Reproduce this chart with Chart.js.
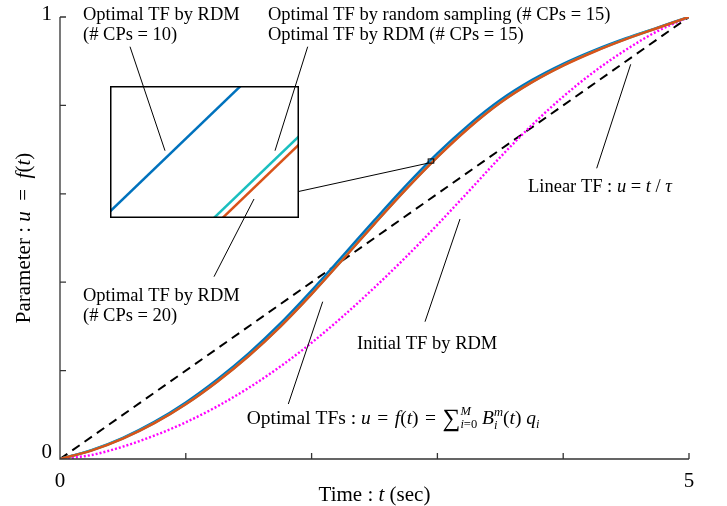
<!DOCTYPE html>
<html>
<head>
<meta charset="utf-8">
<script src="https://cdn.jsdelivr.net/npm/chart.js@4.4.1/dist/chart.umd.min.js"></script>
<style>
  html, body { margin: 0; padding: 0; background: #fff; }
  #wrap { position: relative; width: 727px; height: 506px; }
  #main { position: absolute; left: 0; top: 0; }
  #inset { position: absolute; left: 110px; top: 86px; }
</style>
</head>
<body>
<div id="wrap">
  <canvas id="main" width="727" height="506"></canvas>
  <canvas id="inset" width="189" height="132"></canvas>
</div>
<script>
// time samples (sec) and transfer functions u = f(t)
const timeGrid = [0, 0.25, 0.5, 0.75, 1, 1.25, 1.5, 1.75, 2, 2.25, 2.5, 2.75, 3, 3.25, 3.5, 3.75, 4, 4.25, 4.5, 4.75, 5]
const initialRDM = [0, 0.009, 0.028, 0.053, 0.083, 0.119, 0.161, 0.209, 0.263, 0.323, 0.388, 0.457, 0.530, 0.606, 0.683, 0.755, 0.820, 0.877, 0.926, 0.968, 1.0]
const optimalRDM10 = [0, 0.020, 0.048, 0.084, 0.128, 0.180, 0.239, 0.306, 0.381, 0.4603, 0.5403, 0.6183, 0.6913, 0.756, 0.812, 0.857, 0.894, 0.925, 0.952, 0.976, 1.0]
const optimalRDM15 = [0, 0.0194, 0.0466, 0.0816, 0.1246, 0.1756, 0.2336, 0.2996, 0.3736, 0.4526, 0.5326, 0.6106, 0.6836, 0.7496, 0.8066, 0.8526, 0.8906, 0.9226, 0.9506, 0.9754, 1.0]
const optimalRDM20 = [0, 0.019, 0.046, 0.081, 0.124, 0.175, 0.233, 0.299, 0.373, 0.452, 0.532, 0.610, 0.683, 0.749, 0.806, 0.852, 0.890, 0.922, 0.950, 0.975, 1.0]
const linearTime = [0, 5]
const linearTF = [0, 1]

const xTickValues = [0, 1, 2, 3, 4, 5]
const xTickLabels = ["0", "", "", "", "", "5"]
const yTickValues = [0, 0.2, 0.4, 0.6, 0.8, 1]
const yTickLabels = ["0", "", "", "", "", "1"]

// zoom window shown in the inset
const zoomT = [2.9265, 2.9715]
const zoomU = [0.66936, 0.67892]

const SERIF = '"Liberation Serif", "Times New Roman", serif'
const EN = "\u2002"
const MID = "\u2004"
const pts = (xs, ys) => xs.map((x, i) => ({ x: x, y: ys[i] }))

function makeDatasets(smooth) {
  const curve = smooth ? { cubicInterpolationMode: "monotone" } : { tension: 0 }
  return [
    { data: pts(timeGrid, optimalRDM20), borderColor: "#d95319", borderWidth: 2.5, ...curve },
    { data: pts(timeGrid, optimalRDM15), borderColor: "#1abfbf", borderWidth: 2.5, ...curve },
    { data: pts(timeGrid, optimalRDM10), borderColor: "#0072bd", borderWidth: 2.5, ...curve },
    { data: pts(timeGrid, initialRDM), borderColor: "#ff00ff", borderWidth: 2.4, borderDash: [2, 2], ...curve },
    { data: pts(linearTime, linearTF), borderColor: "#000", borderWidth: 2, borderDash: [9, 6], tension: 0 }
  ]
}

// label leaders, in page pixels
const leaders = [
  [130, 46.7, 165, 150.7],
  [307.7, 46.7, 275, 150.7],
  [214, 276.7, 254, 199],
  [596.7, 168.3, 630.7, 64.3],
  [425, 321.7, 460, 219],
  [288.3, 404, 322.7, 301.7]
]

const R = (s, o) => ({ s: s, ...o })
const I = (s, o) => ({ s: s, it: true, ...o })

function rich(ctx, parts, x, y, align, draw, size) {
  const base = size || 18.5
  let cx = x, anchor = x, maxX = x
  if (align === "center") cx = x - rich(ctx, parts, 0, 0, "left", false, size) / 2
  const start = cx
  for (const p of parts) {
    ctx.font = (p.it ? "italic " : "") + (p.sz || base) + "px " + SERIF
    const w = ctx.measureText(p.s).width
    if (p.save) anchor = cx
    if (p.restore) { maxX = Math.max(maxX, cx); cx = anchor }
    if (draw) ctx.fillText(p.s, cx, y + (p.dy || 0))
    cx += w
    if (p.end) { cx = Math.max(cx, maxX); maxX = 0 }
  }
  return cx - start
}

const labels = [
  { x: 83, y: 19.5, parts: [R("Optimal TF by RDM")] },
  { x: 83, y: 40, parts: [R("(# CPs = 10)")] },
  { x: 268, y: 19.5, parts: [R("Optimal TF by random sampling (# CPs = 15)")] },
  { x: 268, y: 40, parts: [R("Optimal TF by RDM (# CPs = 15)")] },
  { x: 83, y: 300.7, parts: [R("Optimal TF by RDM")] },
  { x: 83, y: 321, parts: [R("(# CPs = 20)")] },
  { x: 528, y: 191.7, parts: [R("Linear TF : "), I("u"), R(" = "), I("t"), R(" / "), I("τ")] },
  { x: 357, y: 349.3, parts: [R("Initial TF by RDM")] },
  { x: 246.7, y: 424, size: 19.5, parts: [
    R("Optimal TFs : "), I("u"), R(MID + "=" + MID), I("f"), R("("), I("t"), R(")" + MID + "=" + MID),
    R("∑", { sz: 25, dy: 2 }),
    I("M", { sz: 12.5, dy: -9, save: true }), I("i", { sz: 12.5, dy: 4, restore: true }), R("=0", { sz: 12.5, dy: 4, end: true }),
    R(" "), I("B"), I("m", { sz: 12.5, dy: -8, save: true }), I("i", { sz: 12.5, dy: 5, restore: true, end: true }),
    R("("), I("t"), R(") "), I("q"), I("i", { sz: 12.5, dy: 4 })
  ] }
]

const mainDecor = {
  id: "mainDecor",
  afterDatasetsDraw(chart) {
    const { ctx, scales: { x, y } } = chart
    const x0 = x.getPixelForValue(0), x1 = x.getPixelForValue(5)
    const y0 = y.getPixelForValue(0), y1 = y.getPixelForValue(1)
    ctx.save()
    ctx.strokeStyle = "#333"
    ctx.lineWidth = 1.3
    ctx.beginPath()
    ctx.moveTo(x0, y1); ctx.lineTo(x0, y0); ctx.lineTo(x1, y0)
    xTickValues.forEach(v => { const px = x.getPixelForValue(v); ctx.moveTo(px, y0); ctx.lineTo(px, y0 - 6) })
    yTickValues.forEach(v => { const py = y.getPixelForValue(v); ctx.moveTo(x0, py); ctx.lineTo(x0 + 6, py) })
    ctx.stroke()

    ctx.fillStyle = "#000"
    ctx.font = "21px " + SERIF
    ctx.textAlign = "center"
    xTickValues.forEach((v, i) => ctx.fillText(xTickLabels[i], x.getPixelForValue(v), y0 + 28))
    ctx.textAlign = "right"
    yTickValues.forEach((v, i) => ctx.fillText(yTickLabels[i], x0 - 8, y.getPixelForValue(v) + (v === 0 ? -0.7 : 3)))
    ctx.textAlign = "left"

    // axis titles
    rich(ctx, [R("Time : "), I("t"), R(" (sec)")], (x0 + x1) / 2, 500.5, "center", true, 21)
    ctx.save()
    ctx.translate(30, (y0 + y1) / 2)
    ctx.rotate(-Math.PI / 2)
    rich(ctx, [R("Parameter : "), I("u"), R(EN + "=" + EN), I("f"), R("("), I("t"), R(")")], 0, 0, "center", true, 21)
    ctx.restore()

    // zoom box and connector
    const bx0 = x.getPixelForValue(zoomT[0]), bx1 = x.getPixelForValue(zoomT[1])
    const by0 = y.getPixelForValue(zoomU[0]), by1 = y.getPixelForValue(zoomU[1])
    ctx.strokeStyle = "#000"
    ctx.lineWidth = 1
    ctx.strokeRect(bx0, by1, bx1 - bx0, by0 - by1)
    ctx.beginPath()
    ctx.moveTo(298.5, 191.5); ctx.lineTo(bx0, by0)
    leaders.forEach(l => { ctx.moveTo(l[0], l[1]); ctx.lineTo(l[2], l[3]) })
    ctx.stroke()

    labels.forEach(l => rich(ctx, l.parts, l.x, l.y, "left", true, l.size))
    ctx.restore()
  }
}

const insetDecor = {
  id: "insetDecor",
  beforeDraw(chart) {
    const { ctx, width, height } = chart
    ctx.save()
    ctx.fillStyle = "#fff"
    ctx.fillRect(0, 0, width, height)
    ctx.restore()
  },
  afterDraw(chart) {
    const { ctx, width, height } = chart
    ctx.save()
    ctx.strokeStyle = "#000"
    ctx.lineWidth = 1
    ctx.beginPath()
    leaders.slice(0, 3).forEach(l => { ctx.moveTo(l[0] - 110, l[1] - 86); ctx.lineTo(l[2] - 110, l[3] - 86) })
    ctx.stroke()
    ctx.lineWidth = 1.5
    ctx.strokeRect(0.75, 0.75, width - 1.5, height - 1.5)
    ctx.restore()
  }
}

const baseOptions = {
  responsive: false,
  animation: false,
  devicePixelRatio: 1,
  plugins: { legend: { display: false }, tooltip: { enabled: false } },
  elements: { point: { radius: 0 } }
}

new Chart(document.getElementById("main"), {
  type: "line",
  data: { datasets: makeDatasets(true) },
  options: {
    ...baseOptions,
    layout: { padding: { left: 60, top: 17, right: 38, bottom: 47 } },
    scales: {
      x: { type: "linear", min: 0, max: 5, display: false },
      y: { type: "linear", min: 0, max: 1, display: false }
    }
  },
  plugins: [mainDecor]
})

new Chart(document.getElementById("inset"), {
  type: "line",
  data: { datasets: makeDatasets(false) },
  options: {
    ...baseOptions,
    layout: { padding: 0 },
    scales: {
      x: { type: "linear", min: zoomT[0], max: zoomT[1], display: false },
      y: { type: "linear", min: zoomU[0], max: zoomU[1], display: false }
    }
  },
  plugins: [insetDecor]
})
</script>
</body>
</html>
